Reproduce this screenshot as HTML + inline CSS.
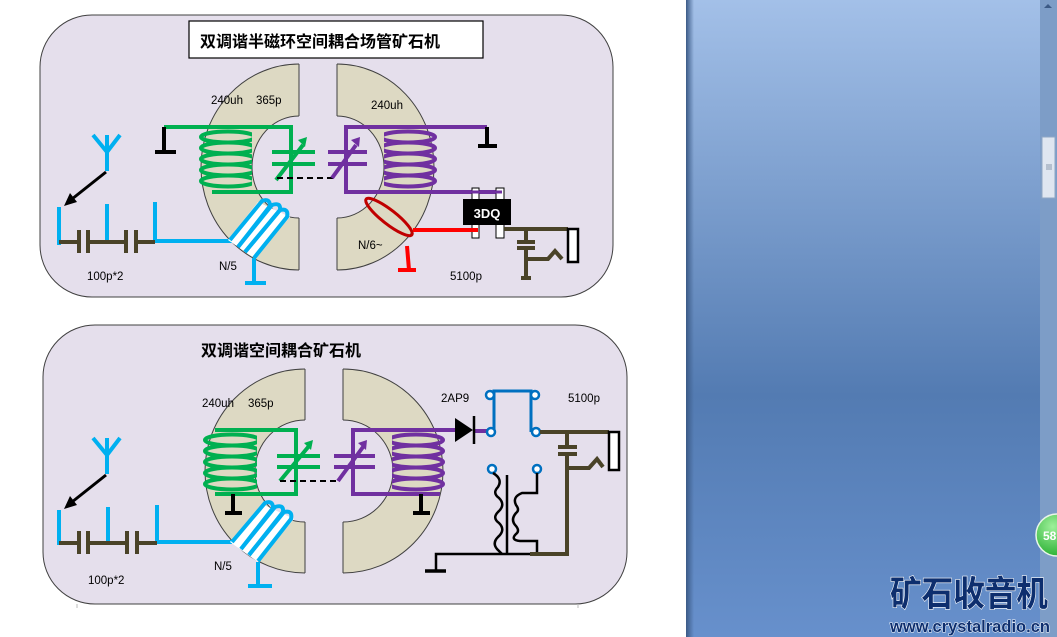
<!DOCTYPE html>
<html><head><meta charset="utf-8"><style>
html,body{margin:0;padding:0;width:1057px;height:637px;overflow:hidden;background:#fff}
svg{display:block}
text{font-family:"Liberation Sans","Noto Sans CJK SC",sans-serif}
</style></head><body>
<svg width="1057" height="637" viewBox="0 0 1057 637" xmlns="http://www.w3.org/2000/svg">
<defs>
<linearGradient id="bg" x1="0" y1="0" x2="0" y2="1">
<stop offset="0" stop-color="#a3c0e8"/><stop offset="0.62" stop-color="#537bb2"/><stop offset="1" stop-color="#6790cc"/>
</linearGradient>
<linearGradient id="edge" x1="0" y1="0" x2="1" y2="0">
<stop offset="0" stop-color="#3b5a86"/><stop offset="1" stop-color="#3b5a86" stop-opacity="0"/>
</linearGradient>
<radialGradient id="gb" cx="0.4" cy="0.3" r="0.8"><stop offset="0" stop-color="#9ef09a"/><stop offset="1" stop-color="#1faa2a"/></radialGradient>
<clipPath id="cL1"><rect x="0" y="0" width="299" height="637"/></clipPath>
<clipPath id="cR1"><rect x="337" y="0" width="300" height="637"/></clipPath>
<clipPath id="cL2"><rect x="0" y="0" width="305" height="637"/></clipPath>
<clipPath id="cR2"><rect x="343" y="0" width="300" height="637"/></clipPath>
<clipPath id="gc1"><rect x="190" y="100" width="62" height="100"/></clipPath>
<clipPath id="pc1"><rect x="384" y="100" width="62" height="100"/></clipPath>
<clipPath id="gc2"><rect x="195" y="400" width="62" height="100"/></clipPath>
<clipPath id="pc2"><rect x="392" y="400" width="62" height="100"/></clipPath>
</defs>

<!-- right side background -->
<rect x="686" y="0" width="371" height="637" fill="url(#bg)"/>
<rect x="686" y="0" width="8" height="637" fill="url(#edge)"/>
<rect x="1040" y="0" width="17" height="637" fill="#7d9dc7"/>
<rect x="1042" y="137" width="13" height="61" fill="#dfe6f0" stroke="#8fa6c4"/>
<path d="M1046 165h6M1046 167h6M1046 169h6" stroke="#8a98ac"/>
<path d="M1044 8l4-4 4 4z" fill="#3c5a85"/>
<circle cx="1057" cy="535" r="21" fill="url(#gb)" stroke="#e8f5e8" stroke-width="1.5"/>
<text x="1043" y="540" font-size="12" font-weight="bold" fill="#fff">58</text>
<text x="890" y="606" font-size="35" font-weight="bold" fill="#0d2e6e" stroke="#fff" stroke-width="1.2" paint-order="stroke" textLength="158" lengthAdjust="spacingAndGlyphs" font-family="'Noto Sans CJK SC',sans-serif">矿石收音机</text>
<text x="890" y="632" font-size="17" font-weight="bold" fill="#0d2e6e" stroke="#fff" stroke-width="1" paint-order="stroke" textLength="160" lengthAdjust="spacingAndGlyphs">www.crystalradio.cn</text>

<!-- ============ PANEL 1 ============ -->
<rect x="40" y="15" width="573" height="282" rx="52" fill="#e5dfec" stroke="#404040" stroke-width="1"/>
<rect x="189" y="21" width="294" height="37" fill="#fff" stroke="#000" stroke-width="1.2"/>
<text x="200" y="47" font-size="16" font-weight="bold" fill="#000">双调谐半磁环空间耦合场管矿石机</text>
<!-- ring halves -->
<path fill-rule="evenodd" clip-path="url(#cL1)" d="M299 64 A98 103 0 1 0 299 270 A98 103 0 1 0 299 64 Z M299 116 A47 51 0 1 1 299 218 A47 51 0 1 1 299 116 Z" fill="#ddd9c3" stroke="#404040" stroke-width="1"/>
<path fill-rule="evenodd" clip-path="url(#cR1)" d="M337 64 A97 103 0 1 0 337 270 A97 103 0 1 0 337 64 Z M337 116 A47 51 0 1 1 337 218 A47 51 0 1 1 337 116 Z" fill="#ddd9c3" stroke="#404040" stroke-width="1"/>
<line x1="299" y1="64" x2="299" y2="116" stroke="#404040"/><line x1="299" y1="218" x2="299" y2="270" stroke="#404040"/>
<line x1="337" y1="64" x2="337" y2="116" stroke="#404040"/><line x1="337" y1="218" x2="337" y2="270" stroke="#404040"/>
<text x="211" y="104" font-size="11.5" fill="#000">240uh</text><text x="256" y="104" font-size="11.5" fill="#000">365p</text>
<text x="371" y="109" font-size="11.5" fill="#000">240uh</text>
<text x="219" y="270" font-size="11.5" fill="#000">N/5</text>
<text x="358" y="249" font-size="11.5" fill="#000">N/6~</text>
<text x="87" y="280" font-size="11.5" fill="#000">100p*2</text>
<text x="450" y="280" font-size="11.5" fill="#000">5100p</text>
<!-- green -->
<g stroke="#00b050" stroke-width="4" fill="none">
<path d="M164 127H291V192H212"/>
<g clip-path="url(#gc1)"><ellipse cx="228" cy="137" rx="27" ry="5.5"/><ellipse cx="228" cy="148" rx="27" ry="5.5"/><ellipse cx="228" cy="159" rx="27" ry="5.5"/><ellipse cx="228" cy="170" rx="27" ry="5.5"/><ellipse cx="228" cy="181" rx="27" ry="5.5"/></g>
<path d="M272 152H315M272 164H315M276 180L303 145"/>
</g>
<path d="M298 140l9-3-2 10z" fill="#00b050"/>
<path d="M164 127V152M155 152H176" stroke="#000" stroke-width="4"/>
<line x1="277" y1="178" x2="334" y2="178" stroke="#000" stroke-width="2" stroke-dasharray="6,4"/>
<!-- purple -->
<g stroke="#7030a0" stroke-width="4" fill="none">
<path d="M487 127H346V192H502"/>
<g clip-path="url(#pc1)"><ellipse cx="408" cy="137" rx="27" ry="5.5"/><ellipse cx="408" cy="148" rx="27" ry="5.5"/><ellipse cx="408" cy="159" rx="27" ry="5.5"/><ellipse cx="408" cy="170" rx="27" ry="5.5"/><ellipse cx="408" cy="181" rx="27" ry="5.5"/></g>
<path d="M328 152H367M328 164H367M332 178L356 145"/>
</g>
<path d="M351 140l9-3-1 10z" fill="#7030a0"/>
<path d="M487 127V146M478 146H497" stroke="#000" stroke-width="4"/>
<!-- 3DQ -->
<rect x="472" y="188" width="7" height="50" fill="#fff" stroke="#000"/>
<rect x="496" y="188" width="8" height="50" fill="#fff" stroke="#000"/>
<line x1="346" y1="192" x2="502" y2="192" stroke="#7030a0" stroke-width="3"/>
<rect x="463" y="199" width="48" height="26" fill="#000"/>
<text x="487" y="218" font-size="13" font-weight="bold" fill="#fff" text-anchor="middle">3DQ</text>
<!-- red -->
<ellipse cx="389" cy="217" rx="29" ry="7" transform="rotate(38 389 217)" fill="none" stroke="#c00000" stroke-width="3"/>
<path d="M413 230H478M407 246L409 270M398 270H416" stroke="#ff0000" stroke-width="4" fill="none"/>
<!-- brown output -->
<g stroke="#4a4328" stroke-width="4" fill="none">
<path d="M504 229H568"/>
<path d="M526 229V241M517 242H535M517 248H535M526 248V278M521 278H531"/>
<path d="M526 259H548L555 251L562 259"/>
</g>
<rect x="568" y="229" width="10" height="33" fill="#fff" stroke="#000" stroke-width="2.5"/>
<!-- antenna/input -->
<g stroke="#00b0f0" stroke-width="4" fill="none">
<path d="M93 135L107 152L120 135M107 135V171"/>
<path d="M59 207V245M107 204V242M155 202V241H232"/>
<path d="M254 258V283M245 283H266"/>
</g>
<g stroke="#4a4328" stroke-width="4" fill="none">
<path d="M59 242H79M88 242H126M136 242H155M79 230V253M88 230V253M126 230V253M136 230V253"/>
</g>
<path d="M106 172L72 199" stroke="#000" stroke-width="3"/>
<path d="M64 206L70 193L77 202Z" fill="#000"/>
<!-- blue coil -->
<path d="M228 240L258 202L290 217L254 258Z" fill="#fff"/>
<g stroke="#00b0f0" stroke-width="4" fill="none">
<path d="M230 240L262 201Q270 198 270 206L238 247"/>
<path d="M238 247L272 205Q281 202 280 210L245 252"/>
<path d="M245 252L280 210Q289 208 287 217L254 258"/>
</g>

<!-- ============ PANEL 2 ============ -->
<rect x="43" y="325" width="584" height="279" rx="52" fill="#e5dfec" stroke="#404040" stroke-width="1"/>
<text x="201" y="356" font-size="16" font-weight="bold" fill="#000">双调谐空间耦合矿石机</text>
<path fill-rule="evenodd" clip-path="url(#cL2)" d="M305 369 A100 102 0 1 0 305 573 A100 102 0 1 0 305 369 Z M305 420 A50 51 0 1 1 305 522 A50 51 0 1 1 305 420 Z" fill="#ddd9c3" stroke="#404040" stroke-width="1"/>
<path fill-rule="evenodd" clip-path="url(#cR2)" d="M343 369 A100 102 0 1 0 343 573 A100 102 0 1 0 343 369 Z M343 420 A50 51 0 1 1 343 522 A50 51 0 1 1 343 420 Z" fill="#ddd9c3" stroke="#404040" stroke-width="1"/>
<line x1="305" y1="369" x2="305" y2="420" stroke="#404040"/><line x1="305" y1="522" x2="305" y2="573" stroke="#404040"/>
<line x1="343" y1="369" x2="343" y2="420" stroke="#404040"/><line x1="343" y1="522" x2="343" y2="573" stroke="#404040"/>
<text x="202" y="407" font-size="11.5" fill="#000">240uh</text><text x="248" y="407" font-size="11.5" fill="#000">365p</text>
<text x="441" y="402" font-size="11.5" fill="#000">2AP9</text>
<text x="568" y="402" font-size="11.5" fill="#000">5100p</text>
<text x="214" y="570" font-size="11.5" fill="#000">N/5</text>
<text x="88" y="584" font-size="11.5" fill="#000">100p*2</text>
<!-- green -->
<g stroke="#00b050" stroke-width="4" fill="none">
<path d="M215 430H296V494H215"/>
<g clip-path="url(#gc2)"><ellipse cx="232" cy="440" rx="27" ry="5.5"/><ellipse cx="232" cy="451" rx="27" ry="5.5"/><ellipse cx="232" cy="462" rx="27" ry="5.5"/><ellipse cx="232" cy="473" rx="27" ry="5.5"/><ellipse cx="232" cy="484" rx="27" ry="5.5"/></g>
<path d="M277 456H320M277 467H320M280 481L309 446"/>
</g>
<path d="M304 443l9-3-2 10z" fill="#00b050"/>
<path d="M233 494V513M225 513H242" stroke="#000" stroke-width="4"/>
<line x1="280" y1="481" x2="337" y2="481" stroke="#000" stroke-width="2" stroke-dasharray="6,4"/>
<!-- purple -->
<g stroke="#7030a0" stroke-width="4" fill="none">
<path d="M455 430H353V494H440"/>
<g clip-path="url(#pc2)"><ellipse cx="416" cy="440" rx="27" ry="5.5"/><ellipse cx="416" cy="451" rx="27" ry="5.5"/><ellipse cx="416" cy="462" rx="27" ry="5.5"/><ellipse cx="416" cy="473" rx="27" ry="5.5"/><ellipse cx="416" cy="484" rx="27" ry="5.5"/></g>
<path d="M334 456H375M334 467H375M338 481L363 447"/>
</g>
<path d="M358 443l9-3-1 10z" fill="#7030a0"/>
<path d="M421 494V513M413 513H430" stroke="#000" stroke-width="4"/>
<path d="M473 431H487" stroke="#7030a0" stroke-width="4"/>
<!-- diode -->
<path d="M455 418L473 430L455 442Z" fill="#000"/>
<line x1="474" y1="416" x2="474" y2="444" stroke="#000" stroke-width="2.5"/>
<!-- blue switch -->
<path d="M494 432V391H531V432" stroke="#0070c0" stroke-width="3" fill="none"/>
<g fill="#fff" stroke="#0070c0" stroke-width="2.5">
<circle cx="490" cy="395" r="4"/><circle cx="535" cy="395" r="4"/><circle cx="491" cy="432" r="4"/><circle cx="536" cy="432" r="4"/><circle cx="492" cy="469" r="4"/><circle cx="537" cy="469" r="4"/>
</g>
<!-- transformer -->
<g stroke="#000" stroke-width="2.5" fill="none">
<path d="M493 473Q503 479 498 487Q492 493 499 498Q506 505 498 512Q492 518 499 523Q506 530 498 537Q492 543 497 549L502 554"/>
<path d="M507 475V554"/>
<path d="M537 473V493H522Q512 497 516 505Q520 510 516 513Q510 520 516 526Q520 531 516 534Q510 540 520 541H537V554"/>
<path d="M436 571V554H530M425 571H446"/>
</g>
<path d="M425 571H446" stroke="#000" stroke-width="3.5"/>
<!-- brown -->
<g stroke="#4a4328" stroke-width="4" fill="none">
<path d="M540 432H609"/>
<path d="M567 432V446M558 447H577M558 454H577M567 454V554H530"/>
<path d="M567 468H589L597 459L603 467"/>
</g>
<rect x="609" y="432" width="10" height="38" fill="#fff" stroke="#000" stroke-width="2.5"/>
<!-- antenna/input -->
<g stroke="#00b0f0" stroke-width="4" fill="none">
<path d="M93 438L107 455L120 438M107 438V474"/>
<path d="M59 510V545M108 507V543M157 505V542H232"/>
<path d="M258 562V586M248 586H272"/>
</g>
<g stroke="#4a4328" stroke-width="4" fill="none">
<path d="M59 543H79M88 543H127M137 543H157M79 531V554M88 531V554M127 531V554M137 531V554"/>
</g>
<path d="M106 475L72 502" stroke="#000" stroke-width="3"/>
<path d="M64 509L70 496L77 505Z" fill="#000"/>
<path d="M230 542L262 504L294 519L258 562Z" fill="#fff"/>
<g stroke="#00b0f0" stroke-width="4" fill="none">
<path d="M232 542L265 503Q273 500 273 508L241 549"/>
<path d="M241 549L275 507Q284 504 283 512L249 555"/>
<path d="M249 555L284 512Q293 510 291 519L258 561"/>
</g>
<path d="M77 604v4M578 604v4" stroke="#bbb"/>
</svg>
</body></html>
